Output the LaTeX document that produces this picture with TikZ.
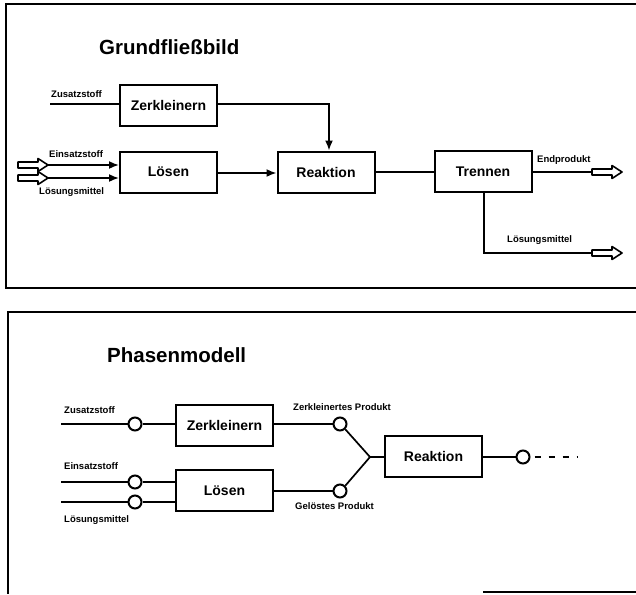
\documentclass[tikz,border=0pt]{standalone}
\usepackage{fontspec}
\setmainfont{Liberation Sans}
\usetikzlibrary{arrows.meta}
\begin{document}
\begin{tikzpicture}[x=1pt,y=-1pt,
  frame/.style={line width=1.6pt},
  proc/.style={draw,line width=2pt,minimum width=97pt,minimum height=41pt,
    inner sep=0pt,font=\fontsize{14}{14}\selectfont\bfseries},
  flow/.style={line width=1.7pt},
  fin/.style={flow,-{Latex[length=10pt,width=8pt]}},
  lbl/.style={font=\fontsize{9.5}{9.5}\selectfont\bfseries,inner sep=0pt},
  title/.style={font=\fontsize{20.5}{20.5}\selectfont\bfseries,inner sep=0pt,anchor=base west},
  phase/.style={circle,draw,line width=2pt,minimum size=13pt,inner sep=0pt,fill=white},
  hollowarrow/.pic={\draw[line width=1.6pt,fill=white,line join=round]
    (0,-3) -- (20,-3) -- (20,-6.5) -- (30,0) -- (20,6.5) -- (20,3) -- (0,3) -- cycle;}
]
\useasboundingbox (0,0) rectangle (636,594);

% ---------- Grundfliessbild ----------
\draw[frame] (636,4) -- (6,4) -- (6,288) -- (636,288);
\node[title] (t1) at (99,54) {Grundfließbild};

\node[proc] (zk) at (168.5,105.5) {Zerkleinern};
\node[proc] (ls) at (168.5,172) {Lösen};
\node[proc] (re) at (326,172) {Reaktion};
\node[proc] (tr) at (483,171.5) {Trennen};

% feeds
\coordinate (zin) at (50,104);
\draw[flow] (zin) -- (zin -| zk.west);
\node[lbl,anchor=south west] (lz) at (51,98) {Zusatzstoff};

\pic at (18,165) {hollowarrow};
\pic at (18,178) {hollowarrow};
\coordinate (ein) at (48,165);
\coordinate (lin) at (48,178);
\draw[fin] (ein) -- (ein -| ls.west);
\draw[fin] (lin) -- (lin -| ls.west);
\node[lbl,anchor=south west] (le) at (49,158) {Einsatzstoff};
\node[lbl,anchor=north west] (ll) at (39,187) {Lösungsmittel};

% main flow
\draw[fin] (zk.east |- 0,104) -| (329,0 |- re.north);
\draw[fin] (ls.east |- 0,173) -- (re.west |- 0,173);
\draw[flow] (re.east |- 0,172) -- (tr.west |- 0,172);

% products
\coordinate (ep) at (593,172);
\draw[flow] (tr.east |- ep) -- (ep);
\pic at (592,172) {hollowarrow};
\node[lbl,anchor=south west] (lep) at (537,165) {Endprodukt};

\coordinate (lm) at (593,253);
\draw[flow] (484,0 |- tr.south) |- (lm);
\pic at (592,253) {hollowarrow};
\node[lbl,anchor=south west] (llm) at (507,245) {Lösungsmittel};

% ---------- Phasenmodell ----------
\draw[frame] (636,312) -- (8,312) -- (8,594);
\draw[frame] (483,592) -- (636,592);
\node[title] (t2) at (107,362) {Phasenmodell};

\node[proc] (pzk) at (224.5,425) {Zerkleinern};
\node[proc] (pls) at (224.5,490.5) {Lösen};
\node[proc] (pre) at (433.5,456) {Reaktion};

\node[phase] (c1) at (135,424) {};
\node[phase] (c2) at (135,482) {};
\node[phase] (c3) at (135,502) {};
\node[phase] (c4) at (340,424) {};
\node[phase] (c5) at (340,491) {};
\node[phase] (c6) at (523,457) {};
\coordinate (j) at (370,457);

\coordinate (pz) at (61,424);
\coordinate (pe) at (61,482);
\coordinate (pl) at (61,502);
\draw[flow] (pz) -- (c1.west);
\draw[flow] (pe) -- (c2.west);
\draw[flow] (pl) -- (c3.west);
\draw[flow] (c1.east) -- (c1.east -| pzk.west);
\draw[flow] (c2.east) -- (c2.east -| pls.west);
\draw[flow] (c3.east) -- (c3.east -| pls.west);
\node[lbl,anchor=south west] (plz) at (64,414) {Zusatzstoff};
\node[lbl,anchor=south west] (ple) at (64,470) {Einsatzstoff};
\node[lbl,anchor=north west] (pll) at (64,515) {Lösungsmittel};

\draw[flow] (pzk.east |- c4) -- (c4.west);
\draw[flow] (pls.east |- c5) -- (c5.west);
\draw[flow] (c4.south east) -- (j);
\draw[flow] (c5.north east) -- (j);
\draw[flow] (j) -- (pre.west |- j);
\node[lbl,anchor=south west] (lzp) at (293,411) {Zerkleinertes Produkt};
\node[lbl,anchor=north west] (lgp) at (295,502) {Gelöstes Produkt};

\coordinate (out) at (577,457);
\draw[flow] (pre.east |- c6) -- (c6.west);
\draw[flow,dash pattern=on 6pt off 8pt,dash phase=-4pt] (c6.east) -- (out);
\end{tikzpicture}
\end{document}
